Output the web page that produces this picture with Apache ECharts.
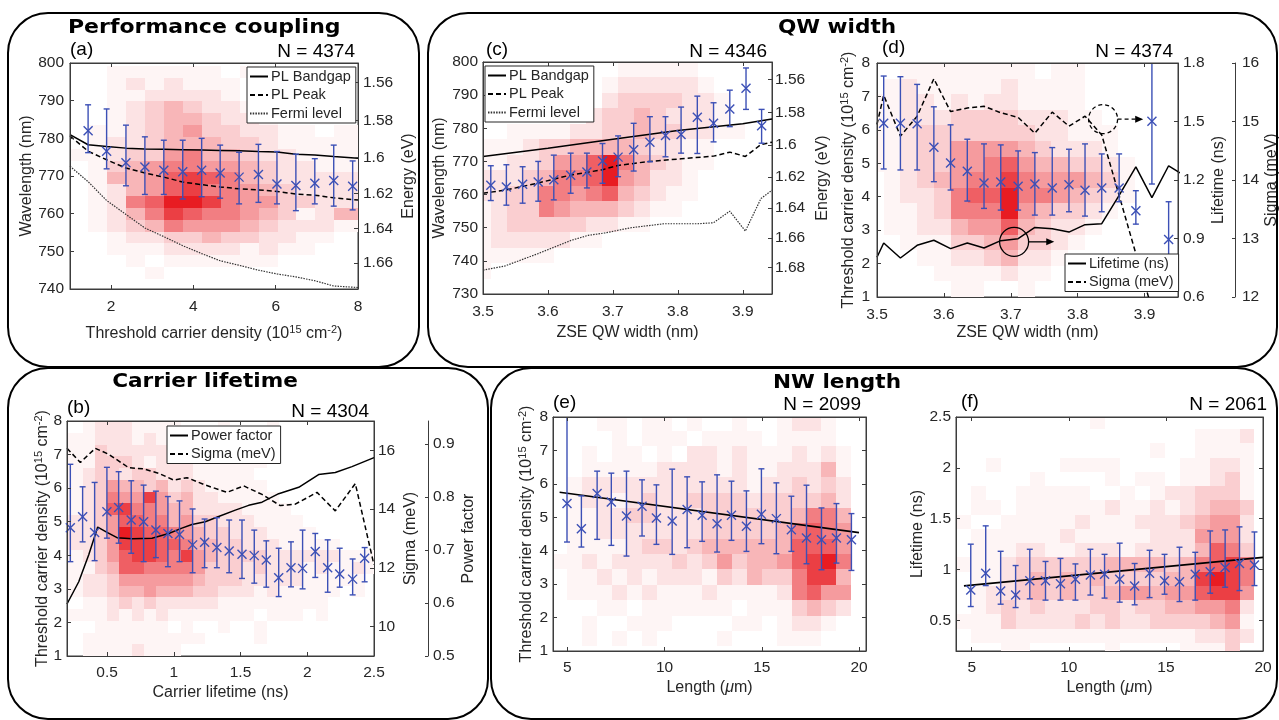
<!DOCTYPE html>
<html><head><meta charset="utf-8">
<script src="https://cdn.jsdelivr.net/npm/echarts@6/dist/echarts.min.js"></script>
<style>html,body{margin:0;padding:0;background:#fff}#c{width:1279px;height:720px}</style>
</head><body><div id="c"></div>
<script>
// ================= DATA =================
const HC = 1239.84;
// ---- (a) Performance coupling ----
const aErrX  = [1.44,1.89,2.36,2.82,3.28,3.74,4.20,4.65,5.11,5.58,6.03,6.49,6.95,7.41,7.87];
const aErrY  = [782.0,776.6,773.5,772.4,771.5,771.1,771.5,770.8,769.7,770.4,767.9,767.5,768.1,768.8,767.3];
const aErrHi = [788.9,787.8,783.5,780.4,779.5,779.5,780.0,778.2,776.3,778.4,776.5,775.8,774.6,778.2,774.0];
const aErrLo = [776.2,771.9,767.4,765.1,765.1,763.9,764.5,764.1,762.6,763.0,762.6,760.8,762.6,762.0,761.0];
const aLineX   = [1.0,1.44,1.89,2.36,2.82,3.28,3.74,4.20,4.65,5.11,5.58,6.03,6.49,6.95,7.41,8.0];
const aBandgap = [781.0,778.3,777.8,777.4,777.2,777.1,777.0,776.9,776.8,776.7,776.5,776.4,775.8,775.6,775.2,774.7];
const aPeak    = [780.6,776.6,774.3,772.1,770.8,769.7,768.4,767.7,767.1,766.6,766.3,765.9,765.2,764.9,764.2,763.6];
const aFermi   = [772.6,768.5,763.5,759.8,756.2,753.9,751.5,749.4,747.5,746.3,745.0,744.0,743.2,742.2,740.8,740.4];
const aEnergyTicks = [1.56,1.58,1.60,1.62,1.64,1.66];
const aHeat = [
"0011111101000000","0012121110000000","0011222210000000","0012343221000000","0012344322100000",
"0112345332211011","0122344433211111","1123356443221111","0134566554322111","0144578764322222",
"0124578665432222","0126799865533222","0124687665431244","0123465554322211","0012233433221100",
"0011122221211000","0001011111100000","0000100000000000","0000000000000000"];
const aHeatBins = {x0:0.98, w:0.4604, y0:739.56, h:3.14};

// ---- (c) QW width, wavelength ----
const cErrX  = [3.512,3.536,3.561,3.585,3.609,3.635,3.660,3.684,3.708,3.732,3.757,3.781,3.805,3.830,3.855,3.880,3.905,3.929];
const cErrY  = [762.8,762.3,763.1,763.8,764.5,765.8,766.8,770.1,771.3,773.5,775.8,777.8,778.1,783.3,781.5,785.8,792.1,780.8];
const cErrHi = [768.7,769.0,768.4,770.0,771.9,772.5,772.5,775.4,777.7,781.5,783.5,783.5,786.4,789.7,787.7,791.5,798.2,785.7];
const cErrLo = [758.2,756.8,757.4,758.0,758.4,760.4,762.0,763.4,765.4,767.1,769.9,771.4,772.5,772.4,775.9,780.5,785.7,775.5];
const cBandX = [3.5,3.6,3.7,3.8,3.9,3.945];
const cBand  = [771.5,774.0,776.7,779.3,781.4,782.8];
const cPeakX = [3.5,3.536,3.585,3.633,3.684,3.708,3.756,3.805,3.855,3.880,3.904,3.928,3.945];
const cPeak  = [760.4,761.4,763.5,765.8,767.5,768.8,770.0,770.8,771.6,772.8,771.5,775.1,775.8];
const cFermiX = [3.5,3.533,3.585,3.636,3.662,3.687,3.728,3.779,3.831,3.855,3.880,3.904,3.928,3.945];
const cFermi  = [737.2,738.4,742.2,746.2,747.7,748.4,750.0,751.2,751.2,751.5,755.0,749.0,758.8,761.3];
const cEnergyTicks = [1.56,1.58,1.60,1.62,1.64,1.66,1.68];
const cHeat = [
"0000000001111100000","0000000012222210000","0000000023333221000","0000000233432221000","0011112233433221100",
"1112334444322110000","1122355796432110000","2223466795422100000","2233665674321100000","1233654443211000000",
"1233333221100000000","1222221100000000000","1111100000000000000","1000000000000000000","0000000000000000000"];
const cHeatBins = {x0:3.4875, w:0.0245, y0:730, h:70/15};

// ---- (d) QW width, threshold ----
const dErrX  = [3.510,3.535,3.560,3.585,3.610,3.635,3.660,3.685,3.711,3.736,3.762,3.787,3.811,3.836,3.862,3.887,3.911,3.936];
const dErrY  = [6.20,6.20,6.18,5.48,5.01,4.76,4.41,4.44,4.31,4.38,4.26,4.36,4.19,4.26,4.26,3.58,6.26,2.72];
const dErrHi = [7.61,7.59,7.36,6.69,6.15,5.72,5.58,5.55,5.37,5.32,5.47,5.42,5.58,5.28,5.28,4.18,8.2,3.85];
const dErrLo = [4.83,4.80,4.80,4.45,4.20,3.87,3.65,3.60,3.60,3.45,3.45,3.55,3.42,3.55,3.85,3.18,4.38,1.6];
const dLifeX = [3.5,3.510,3.535,3.560,3.585,3.610,3.635,3.660,3.685,3.711,3.736,3.762,3.787,3.811,3.836,3.862,3.887,3.911,3.936,3.953];
const dLife  = [0.804,0.877,0.800,0.865,0.891,0.848,0.877,0.851,0.889,0.899,0.957,0.950,0.933,0.971,0.976,1.121,1.267,1.110,1.273,1.236];
const dSigX  = [3.5,3.510,3.535,3.560,3.585,3.610,3.635,3.660,3.685,3.711,3.736,3.762,3.787,3.811,3.836,3.887,3.911];
const dSig   = [14.95,15.45,14.75,15.09,15.73,15.17,15.23,15.26,15.15,15.07,14.80,15.16,14.92,15.09,14.77,12.74,11.8];
const dCircleX = [3.705,3.838];
const dCircleY = [2.65,6.32];
const dArrowToX = [3.765,3.898];
const dHeat = [
"0011111111011000000","0121111121111000000","1122121221111000000","1122233332221100000","1123333333221110000",
"1123355554322210000","1123355675443321000","0123456686555431000","0122367796654321000","0112366695433210000",
"0112245574322100000","0011133453321000000","0001122342210000000","0000111121100000000","0000011001000000000"];
const dHeatBins = {x0:3.485, w:0.02506, y0:1, h:7/15};

// ---- (b) Carrier lifetime ----
const bErrX  = [0.225,0.317,0.407,0.499,0.587,0.681,0.774,0.866,0.956,1.043,1.141,1.231,1.323,1.415,1.511,1.603,1.693,1.786,1.878,1.965,2.060,2.153,2.243,2.340,2.430];
const bErrY  = [4.82,5.15,4.68,5.30,5.42,5.05,5.00,4.75,4.65,4.62,4.31,4.39,4.23,4.13,4.03,3.99,3.86,3.33,3.63,3.61,4.11,3.63,3.44,3.29,3.91];
const bErrHi = [6.71,6.04,6.17,6.62,6.49,6.22,6.09,5.91,5.75,5.62,5.38,5.08,5.12,5.05,5.05,4.75,4.43,4.21,4.40,4.75,4.65,4.46,4.21,3.89,4.23];
const bErrLo = [3.81,4.40,3.84,4.51,4.36,4.06,3.81,3.93,3.66,3.81,3.48,3.63,3.63,3.48,3.31,3.17,3.05,2.77,3.06,3.00,3.34,2.90,3.05,2.82,3.21];
const bPfX = [0.2,0.288,0.363,0.430,0.5,0.575,0.687,0.837,0.962,1.061,1.136,1.236,1.336,1.461,1.561,1.661,1.786,1.936,2.085,2.210,2.335,2.5];
const bPf  = [0.598,0.640,0.691,0.743,0.733,0.723,0.721,0.722,0.731,0.741,0.748,0.753,0.763,0.775,0.784,0.790,0.806,0.818,0.842,0.846,0.857,0.874];
const bSigX = [0.2,0.3,0.412,0.512,0.662,0.775,0.887,0.999,1.099,1.236,1.399,1.524,1.661,1.798,1.910,2.073,2.210,2.360,2.5];
const bSig  = [16.07,15.59,16.07,15.87,15.41,15.37,15.22,14.99,15.07,14.82,14.57,14.79,14.50,14.12,14.17,14.57,13.94,14.87,12.1];
const bHeat = [
"00122211110001000100000000","11122212111011110000000000","11132222211111110000000000","11133321222111111000000000",
"11233233222111110000000000","11235443423211111000000000","11236558534221111100000000","11237866544222211110000000",
"22235776645332221111000000","22235987765433222111100000","22235888776443322211111000","11235788768543333222222111",
"11134776666533323222121121","11223555555433322222111110","11223445444332221211111010","00112323222221111111110000",
"11112121211111110111010000","00011111101001001000000000","00111111111100001000000000","00111121110000000000000000"];
const bHeatBins = {x0:0.1331, w:0.0919, y0:1, h:0.35};

// ---- (e) NW length, threshold ----
const eErrX  = [4.98,5.72,6.53,7.26,8.04,8.84,9.58,10.39,11.16,11.93,12.70,13.44,14.21,14.98,15.75,16.52,17.30,18.07,18.84,19.61];
const eErrY  = [5.41,4.66,5.71,5.46,5.04,5.33,4.98,4.89,5.23,5.06,4.81,5.06,4.73,5.09,4.96,4.63,4.38,4.33,4.38,4.33];
const eErrHi = [8.2,5.64,6.38,6.32,6.38,6.12,5.97,6.44,6.21,6.06,6.27,6.08,5.79,6.45,6.03,5.63,5.96,5.28,5.41,5.11];
const eErrLo = [4.26,4.11,4.34,4.16,3.84,4.44,4.19,3.89,4.09,4.28,3.96,4.31,3.98,4.21,3.91,3.98,3.61,3.43,3.63,3.41];
const eFitX = [4.6,20.0];
const eFit  = [5.75,4.54];
const eHeat = [
"00011011010010012210","00001011101111011110","00101101022121112121","00111112222121122241",
"01222222222221223232","01221232233332333342","01122332223333334664","01122222223333346765",
"01111233234444447775","11212222323534457896","01121212221324336884","01112121112111126755",
"00011011111101113432","00100111000011012210","00101010000100011100","00000000000000000000"];
const eHeatBins = {x0:4.21, w:0.770, y0:0.68, h:0.46};

// ---- (f) NW length, lifetime ----
const fErrX  = [4.95,5.72,6.49,7.26,7.99,8.80,9.57,10.34,11.11,11.84,12.62,13.39,14.16,14.93,15.70,16.51,17.28,18.05,18.79,19.56];
const fErrY  = [0.80,0.964,0.79,0.75,0.89,0.89,0.86,0.905,0.948,0.954,0.905,0.84,0.964,0.89,0.88,0.954,0.98,1.02,1.06,1.046];
const fErrHi = [1.25,1.43,1.18,1.04,1.20,1.08,1.11,1.056,1.20,1.15,1.26,1.06,1.19,1.15,1.22,1.17,1.38,1.39,1.42,1.37];
const fErrLo = [0.637,0.843,0.66,0.627,0.713,0.70,0.70,0.70,0.75,0.72,0.68,0.654,0.725,0.758,0.686,0.70,0.768,0.827,0.794,0.843];
const fFitX = [4.6,20.0];
const fFit  = [0.84,1.12];
const fHeat = [
"00000000010000000000","00000000000000001112","00000000000001001111","00100001111000011221",
"00000100001011011231","01001111100101223331","01101111112112123443","10011111211122234552",
"01111112111112225552","01112211222122224763","11123333334444346786","01123434343333448986",
"01223434334554557885","01232322233233445562","11132222323223333451","01111111111111112232",
"00011000001000011130"];
const fHeatBins = {x0:4.18, w:0.769, y0:0.14, h:0.14};

// ================= STYLE / HELPERS =================
const FONT = '"Liberation Sans", Arial, Helvetica, sans-serif';
const TXT = '#262626', FRAME = '#3c3c3c', BLUE = '#3c50b6';
const RED = [232, 28, 34];
const NAME_STYLE = {fontSize:16, fontFamily:FONT, color:TXT, lineHeight:20,
  rich:{sup:{fontSize:11, fontFamily:FONT, color:TXT, verticalAlign:'top', lineHeight:12},
        it:{fontSize:16, fontFamily:FONT, color:TXT, fontStyle:'italic', lineHeight:20}}};
const THR = 'Threshold carrier density (10{sup|15} cm{sup|-2})';
const LEN = 'Length ({it|\u03bc}m)';
const zip = (xs, ys) => xs.map((x, i) => [x, ys[i]]);
const fmtE = v => String(Math.round(HC / v * 100) / 100);
function heatColor(l){ const t = Math.pow(l / 9, 1.4); return 'rgb(' + RED.map(c => Math.round(255 + (c - 255) * t)).join(',') + ')'; }

function mkX(grid, min, max, ticks, o){
  o = o || {};
  const lab = o.labels !== false;
  return {type:'value', gridIndex:grid, min, max, position:o.pos || 'bottom',
    name: lab ? (o.name || '') : '', nameLocation:'middle', nameGap:o.gap || 28, nameMoveOverlap:false,
    nameTextStyle:NAME_STYLE,
    axisLine:{show:true, onZero:false, lineStyle:{color:FRAME, width:1}},
    axisTick:{show:true, inside:true, length:4, customValues:ticks, lineStyle:{color:FRAME}},
    axisLabel:{show:lab, customValues:ticks, margin:o.margin || 10, fontSize:15.5, color:TXT, fontFamily:FONT},
    splitLine:{show:false}, z:4};
}
function mkY(grid, min, max, ticks, o){
  o = o || {};
  const lab = o.labels !== false;
  const ax = {type:'value', gridIndex:grid, min, max, position:o.pos || 'left', offset:o.offset || 0,
    name: lab ? (o.name || '') : '', nameLocation:'middle', nameGap:o.gap || 30, nameRotate:90, nameMoveOverlap:false,
    nameTextStyle:NAME_STYLE,
    axisLine:{show:true, onZero:false, lineStyle:{color:FRAME, width:1}},
    axisTick:{show:true, inside:true, length:o.tickLen || 4, customValues:ticks, lineStyle:{color:FRAME}},
    axisLabel:{show:lab, customValues:ticks, margin:o.margin == null ? 5 : o.margin, fontSize:15.5, color:TXT, fontFamily:FONT},
    splitLine:{show:false}, z:4};
  if (o.fmt) ax.axisLabel.formatter = o.fmt;
  return ax;
}
function heat(rows, bins, xi, yi){
  const n = rows.length, data = [];
  rows.forEach((s, r) => { for (let c = 0; c < s.length; c++){ const l = +s[c]; if (l > 0) data.push([bins.x0 + c * bins.w, bins.y0 + (n - 1 - r) * bins.h, l]); } });
  return {type:'custom', xAxisIndex:xi, yAxisIndex:yi, z:1, silent:true, data, encode:{x:0, y:1},
    renderItem(p, api){
      const xa = api.value(0), ya = api.value(1);
      const a = api.coord([xa, ya + bins.h]), b = api.coord([xa + bins.w, ya]);
      const cs = p.coordSys;
      const x1 = Math.max(Math.round(a[0]), cs.x), x2 = Math.min(Math.round(b[0]), cs.x + cs.width);
      const y1 = Math.max(Math.round(a[1]), cs.y), y2 = Math.min(Math.round(b[1]), cs.y + cs.height);
      if (x2 <= x1 || y2 <= y1) return null;
      return {type:'rect', shape:{x:x1, y:y1, width:x2 - x1, height:y2 - y1}, style:{fill:heatColor(api.value(2))}};
    }};
}
function errBars(xs, ys, lo, hi, xi, yi){
  return {type:'custom', xAxisIndex:xi, yAxisIndex:yi, z:3, silent:true,
    data: xs.map((x, i) => [x, ys[i], lo[i], hi[i]]), encode:{x:0, y:1},
    renderItem(p, api){
      const cs = p.coordSys;
      const m = api.coord([api.value(0), api.value(1)]);
      const yl = api.coord([api.value(0), api.value(2)])[1], yh = api.coord([api.value(0), api.value(3)])[1];
      const top = cs.y, bot = cs.y + cs.height;
      const cl = v => Math.min(Math.max(v, top), bot);
      const st = {stroke:BLUE, lineWidth:1.4}, c = 3, s = 4.5, x = m[0];
      const ch = [{type:'line', shape:{x1:x, y1:cl(yl), x2:x, y2:cl(yh)}, style:st}];
      if (yl >= top && yl <= bot) ch.push({type:'line', shape:{x1:x - c, y1:yl, x2:x + c, y2:yl}, style:st});
      if (yh >= top && yh <= bot) ch.push({type:'line', shape:{x1:x - c, y1:yh, x2:x + c, y2:yh}, style:st});
      ch.push({type:'line', shape:{x1:x - s, y1:m[1] - s, x2:x + s, y2:m[1] + s}, style:st});
      ch.push({type:'line', shape:{x1:x - s, y1:m[1] + s, x2:x + s, y2:m[1] - s}, style:st});
      return {type:'group', children:ch};
    }};
}
function line(name, xs, ys, xi, yi, type, color, width){
  return {type:'line', name, xAxisIndex:xi, yAxisIndex:yi, data:zip(xs, ys), symbol:'none', z:2, silent:true,
    lineStyle:{color:color || '#000', width:width || 1.5, type:type || 'solid'}, itemStyle:{color:color || '#000'}};
}
const DASH = [5, 3];
const DOT = [1.5, 1.2];

// ================= OPTION =================
const grids = [
  {left:70, top:63, width:288, height:226},
  {left:483, top:62, width:289, height:232},
  {left:877, top:63, width:301, height:234},
  {left:67, top:421, width:307, height:235},
  {left:553, top:417, width:313, height:234},
  {left:956, top:417, width:307, height:234}
].map(g => Object.assign({show:true, borderColor:FRAME, borderWidth:1, backgroundColor:'rgba(0,0,0,0)', containLabel:false, outerBoundsMode:'none'}, g));

const xAxis = [
  mkX(0, 1, 8, [2,4,6,8], {name:THR, gap:35}), mkX(0, 1, 8, [2,4,6,8], {pos:'top', labels:false}),
  mkX(1, 3.5, 3.945, [3.5,3.6,3.7,3.8,3.9], {name:'ZSE QW width (nm)', gap:29}), mkX(1, 3.5, 3.945, [3.5,3.6,3.7,3.8,3.9], {pos:'top', labels:false}),
  mkX(2, 3.5, 3.95, [3.5,3.6,3.7,3.8,3.9], {name:'ZSE QW width (nm)', gap:26}), mkX(2, 3.5, 3.95, [3.5,3.6,3.7,3.8,3.9], {pos:'top', labels:false}),
  mkX(3, 0.2, 2.5, [0.5,1,1.5,2,2.5], {name:'Carrier lifetime (ns)', gap:27, margin:9}), mkX(3, 0.2, 2.5, [0.5,1,1.5,2,2.5], {pos:'top', labels:false}),
  mkX(4, 4.26, 20.36, [5,10,15,20], {name:LEN, gap:27, margin:9}), mkX(4, 4.26, 20.36, [5,10,15,20], {pos:'top', labels:false}),
  mkX(5, 4.19, 20.0, [5,10,15,20], {name:LEN, gap:27, margin:9}), mkX(5, 4.19, 20.0, [5,10,15,20], {pos:'top', labels:false})
];
const yAxis = [
  mkY(0, 740, 800, [740,750,760,770,780,790,800], {name:'Wavelength (nm)', gap:33, margin:6}),
  mkY(0, 740, 800, aEnergyTicks.map(e => HC / e), {pos:'right', name:'Energy (eV)', gap:41, fmt:fmtE}),
  mkY(1, 730, 800, [730,740,750,760,770,780,790,800], {name:'Wavelength (nm)', gap:33}),
  mkY(1, 730, 800, cEnergyTicks.map(e => HC / e), {pos:'right', name:'Energy (eV)', gap:41, margin:3, fmt:fmtE}),
  mkY(2, 1, 8, [1,2,3,4,5,6,7,8], {name:THR, gap:18, margin:7}),
  mkY(2, 0.6, 1.8, [0.6,0.9,1.2,1.5,1.8], {pos:'right', name:'Lifetime (ns)', gap:31}),
  mkY(2, 12, 16, [12,13,14,15,16], {pos:'right', offset:57, name:'Sigma (meV)', gap:27, margin:7, tickLen:3}),
  mkY(3, 1, 8, [1,2,3,4,5,6,7,8], {name:THR, gap:14}),
  mkY(3, 9, 17, [10,12,14,16], {pos:'right', name:'Sigma (meV)', gap:27, margin:4}),
  mkY(3, 0.5, 0.943, [0.5,0.6,0.7,0.8,0.9], {pos:'right', offset:54, name:'Power factor', gap:31, tickLen:3}),
  mkY(4, 1, 8, [1,2,3,4,5,6,7,8], {name:THR, gap:16}),
  mkY(4, 1, 8, [1,2,3,4,5,6,7,8], {pos:'right', labels:false}),
  mkY(5, 0.2, 2.5, [0.5,1,1.5,2,2.5], {name:'Lifetime (ns)', gap:28}),
  mkY(5, 0.2, 2.5, [0.5,1,1.5,2,2.5], {pos:'right', labels:false})
];

const series = [
  heat(aHeat, aHeatBins, 0, 0),
  line('PL Bandgap', aLineX, aBandgap, 0, 0, 'solid'),
  line('PL Peak', aLineX, aPeak, 0, 0, DASH),
  line('Fermi level', aLineX, aFermi, 0, 0, DOT, '#333', 1.2),
  errBars(aErrX, aErrY, aErrLo, aErrHi, 0, 0),

  heat(cHeat, cHeatBins, 2, 2),
  line('PL Bandgap', cBandX, cBand, 2, 2, 'solid'),
  line('PL Peak', cPeakX, cPeak, 2, 2, DASH),
  line('Fermi level', cFermiX, cFermi, 2, 2, DOT, '#333', 1.2),
  errBars(cErrX, cErrY, cErrLo, cErrHi, 2, 2),

  heat(dHeat, dHeatBins, 4, 4),
  line('Lifetime (ns)', dLifeX, dLife, 4, 5, 'solid'),
  line('Sigma (meV)', dSigX, dSig, 4, 6, DASH),
  errBars(dErrX, dErrY, dErrLo, dErrHi, 4, 4),
  {type:'custom', xAxisIndex:4, yAxisIndex:4, z:3, silent:true,
   data: dCircleX.map((x, i) => [x, dCircleY[i], dArrowToX[i]]), encode:{x:0, y:1},
   renderItem(p, api){
     const c = api.coord([api.value(0), api.value(1)]), t = api.coord([api.value(2), api.value(1)]);
     const r = 14.5, dash = p.dataIndex === 1 ? [4, 3] : null;
     const st = {stroke:'#000', lineWidth:1.3, fill:'none', lineDash:dash};
     return {type:'group', children:[
       {type:'circle', shape:{cx:c[0], cy:c[1], r}, style:st},
       {type:'line', shape:{x1:c[0] + r, y1:c[1], x2:t[0] - 7, y2:c[1]}, style:{stroke:'#000', lineWidth:1.3, lineDash:dash}},
       {type:'polygon', shape:{points:[[t[0], c[1]], [t[0] - 8, c[1] - 3.5], [t[0] - 8, c[1] + 3.5]]}, style:{fill:'#000'}}
     ]};
   }},

  heat(bHeat, bHeatBins, 6, 7),
  line('Power factor', bPfX, bPf, 6, 9, 'solid'),
  line('Sigma (meV)', bSigX, bSig, 6, 8, DASH),
  errBars(bErrX, bErrY, bErrLo, bErrHi, 6, 7),

  heat(eHeat, eHeatBins, 8, 10),
  line('fitE', eFitX, eFit, 8, 10, 'solid', '#000', 1.6),
  errBars(eErrX, eErrY, eErrLo, eErrHi, 8, 10),

  heat(fHeat, fHeatBins, 10, 12),
  line('fitF', fFitX, fFit, 10, 12, 'solid', '#000', 1.6),
  errBars(fErrX, fErrY, fErrLo, fErrHi, 10, 12)
];

const LEG = {orient:'vertical', itemWidth:18, itemHeight:15, itemGap:3.5, padding:[2,5,2,2],
  backgroundColor:'#fff', borderColor:'#262626', borderWidth:1, borderRadius:0, selectedMode:false, z:6,
  itemStyle:{opacity:0, borderWidth:0},
  textStyle:{fontSize:14.5, color:TXT, fontFamily:FONT, lineHeight:15, padding:[0,0,0,-2]}};
const legend = [
  Object.assign({}, LEG, {left:247, top:67, data:['PL Bandgap','PL Peak','Fermi level']}),
  Object.assign({}, LEG, {left:485, top:66, data:['PL Bandgap','PL Peak','Fermi level']}),
  Object.assign({}, LEG, {left:1065, top:254, data:['Lifetime (ns)','Sigma (meV)']}),
  Object.assign({}, LEG, {left:167, top:426, data:['Power factor','Sigma (meV)']})
];

function txt(t, x, y, size, align, bold, sx){
  return {type:'text', x, y, scaleX:sx || 1, z:10, silent:true,
    style:{text:t, fill:'#000', font:(bold ? 'bold ' : '') + size + 'px ' + (bold ? '"DejaVu Sans", sans-serif' : FONT),
      textAlign:align, textVerticalAlign:'middle', align:align, verticalAlign:'middle'}};
}
function box(x, y, w, h){
  return {type:'rect', z:9, silent:true, shape:{x, y, width:w, height:h, r:40}, style:{fill:'none', stroke:'#000', lineWidth:2}};
}
const graphic = [
  box(8, 13, 411, 354), box(428, 13, 849, 354), box(8, 368, 480, 351), box(491, 368, 786, 351),
  txt('Performance coupling', 68, 28, 20, 'left', true, 1.1),
  txt('QW width', 837, 28, 20, 'center', true, 1.08),
  txt('Carrier lifetime', 205, 382, 20, 'center', true, 1.08),
  txt('NW length', 837, 383, 20, 'center', true, 1.08),
  txt('(a)', 70, 50, 19, 'left'), txt('N = 4374', 355, 52, 19, 'right'),
  txt('(c)', 486, 50, 19, 'left'), txt('N = 4346', 767, 52, 19, 'right'),
  txt('(d)', 882, 48, 19, 'left'), txt('N = 4374', 1173, 52, 19, 'right'),
  txt('(b)', 67, 408, 19, 'left'), txt('N = 4304', 369, 412, 19, 'right'),
  txt('(e)', 553, 403, 19, 'left'), txt('N = 2099', 861, 405, 19, 'right'),
  txt('(f)', 961, 402, 19, 'left'), txt('N = 2061', 1267, 405, 19, 'right')
];

const chart = echarts.init(document.getElementById('c'), null, {renderer:'canvas', width:1279, height:720});
chart.setOption({animation:false, backgroundColor:'#fff', grid:grids, xAxis, yAxis, series, legend, graphic});
</script></body></html>
